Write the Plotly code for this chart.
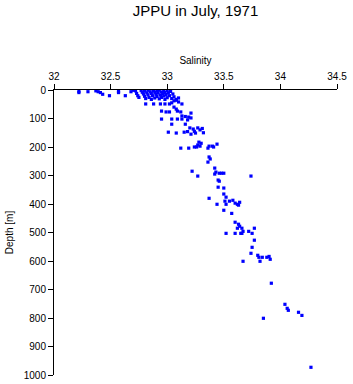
import plotly.graph_objects as go

# Salinity (x) and depth in m (y)
salinity = [
    32.22, 32.22, 32.30, 32.37, 32.39, 32.41, 32.43, 32.49, 32.57, 32.57, 32.63, 32.68, 32.70, 32.72, 32.73, 32.74, 32.75,
    32.77, 32.78, 32.79, 32.80, 32.80, 32.81, 32.82, 32.83, 32.83, 32.84, 32.85, 32.86, 32.86, 32.87, 32.88, 32.89, 32.89,
    32.90, 32.91, 32.91, 32.92, 32.93, 32.93, 32.94, 32.95, 32.95, 32.96, 32.97, 32.97, 32.98, 32.98, 32.99, 33.00, 33.00,
    33.01, 33.02, 33.03, 33.04, 33.05, 33.06, 33.08, 33.10,
    32.81, 32.88, 32.94, 32.98, 33.02, 33.06, 33.08, 33.13, 33.06, 33.08, 33.04, 33.10,
    32.95, 32.99, 33.02, 33.09, 33.12, 33.21, 33.13, 33.16, 33.19, 32.95, 33.04, 33.09, 33.13, 33.21, 33.18, 33.04, 33.16,
    33.20, 33.23, 33.27, 33.29, 33.25, 33.21, 33.01, 33.08, 33.15, 33.18, 33.24, 33.31, 33.32,
    33.28, 33.30, 33.29, 33.27, 33.37, 33.40, 33.41, 33.44, 33.12, 33.19, 33.24, 33.26, 33.36, 33.37, 33.38, 33.36,
    33.22, 33.27, 33.42, 33.43, 33.46, 33.48, 33.50, 33.42, 33.45, 33.46, 33.45, 33.50, 33.74, 33.37, 33.44,
    33.50, 33.52, 33.51, 33.55, 33.58, 33.60, 33.52, 33.62, 33.64, 33.63,
    33.50, 33.57, 33.60, 33.63, 33.64, 33.62, 33.66, 33.67, 33.65, 33.66, 33.72, 33.75, 33.77, 33.52, 33.60,
    33.77, 33.75, 33.74, 33.80, 33.81, 33.84, 33.88, 33.90, 33.91, 33.82, 33.67,
    33.92, 34.04, 34.06, 34.07, 34.16, 34.19, 33.85, 34.27,
]
depth = [
    5, 9, 6, 3, 6, 9, 15, 20, 5, 9, 20, 6, 1, 3, 12, 20, 26,
    2, 8, 14, 4, 22, 30, 10, 1, 17, 26, 6, 12, 33, 20, 2, 8, 28,
    15, 4, 23, 11, 31, 1, 18, 7, 26, 13, 3, 21, 9, 33, 16, 2, 27,
    10, 20, 5, 30, 14, 24, 33, 28,
    49, 49, 49, 49, 49, 38, 36, 49, 60, 67, 45, 42,
    74, 77, 77, 74, 77, 81, 91, 93, 95, 102, 102, 102, 102, 98, 105, 120, 120,
    133, 137, 133, 140, 151, 155, 148, 151, 148, 146, 145, 135, 150,
    183, 187, 197, 193, 197, 197, 200, 190, 204, 204, 200, 200, 204, 235, 242, 253,
    285, 302, 274, 288, 292, 292, 292, 295, 316, 320, 341, 344, 302, 380, 401,
    365, 376, 390, 390, 387, 397, 401, 401, 394, 404,
    422, 433, 464, 471, 478, 485, 485, 496, 503, 503, 496, 503, 485, 503, 503,
    527, 552, 573, 580, 587, 587, 587, 584, 594, 601, 601,
    678, 752, 766, 773, 780, 791, 801, 973,
]

x_ticks = [32, 32.5, 33, 33.5, 34, 34.5]
x_tick_labels = ["32", "32.5", "33", "33.5", "34", "34.5"]
y_ticks = [0, 100, 200, 300, 400, 500, 600, 700, 800, 900, 1000]

fig = go.Figure(
    go.Scatter(
        x=salinity, y=depth, mode="markers",
        marker=dict(symbol="square", size=3.2, color="#0000ff", line=dict(width=0)),
        hoverinfo="x+y",
    )
)

font_family = "Liberation Sans, Arial, Helvetica, sans-serif"

fig.update_layout(
    width=353, height=384,
    margin=dict(l=54, r=16, t=90, b=9, autoexpand=False),
    paper_bgcolor="white", plot_bgcolor="white",
    showlegend=False,
    font=dict(family=font_family, size=10, color="black"),
    title=dict(text="JPPU in July, 1971", x=0.5, xref="paper", xanchor="center",
               y=1 - 11 / 384, yref="container", yanchor="middle", automargin=False,
               font=dict(size=15, color="black", family=font_family)),
    xaxis=dict(
        side="top", range=[32, 34.5], tickvals=x_ticks, ticktext=x_tick_labels,
        showline=True, linecolor="black", linewidth=1, mirror=False,
        ticks="outside", ticklen=5, tickcolor="black", tickwidth=1,
        showgrid=False, zeroline=False, automargin=False,
        title=dict(text="Salinity", standoff=4, font=dict(size=10)),
    ),
    yaxis=dict(
        range=[1000, 0], tickvals=y_ticks,
        showline=True, linecolor="black", linewidth=1, mirror=False,
        ticks="outside", ticklen=5, tickcolor="black", tickwidth=1,
        showgrid=False, zeroline=False, automargin=False,
        title=dict(text="Depth [m]", standoff=8, font=dict(size=10)),
    ),
)

fig.write_html("out.html")
